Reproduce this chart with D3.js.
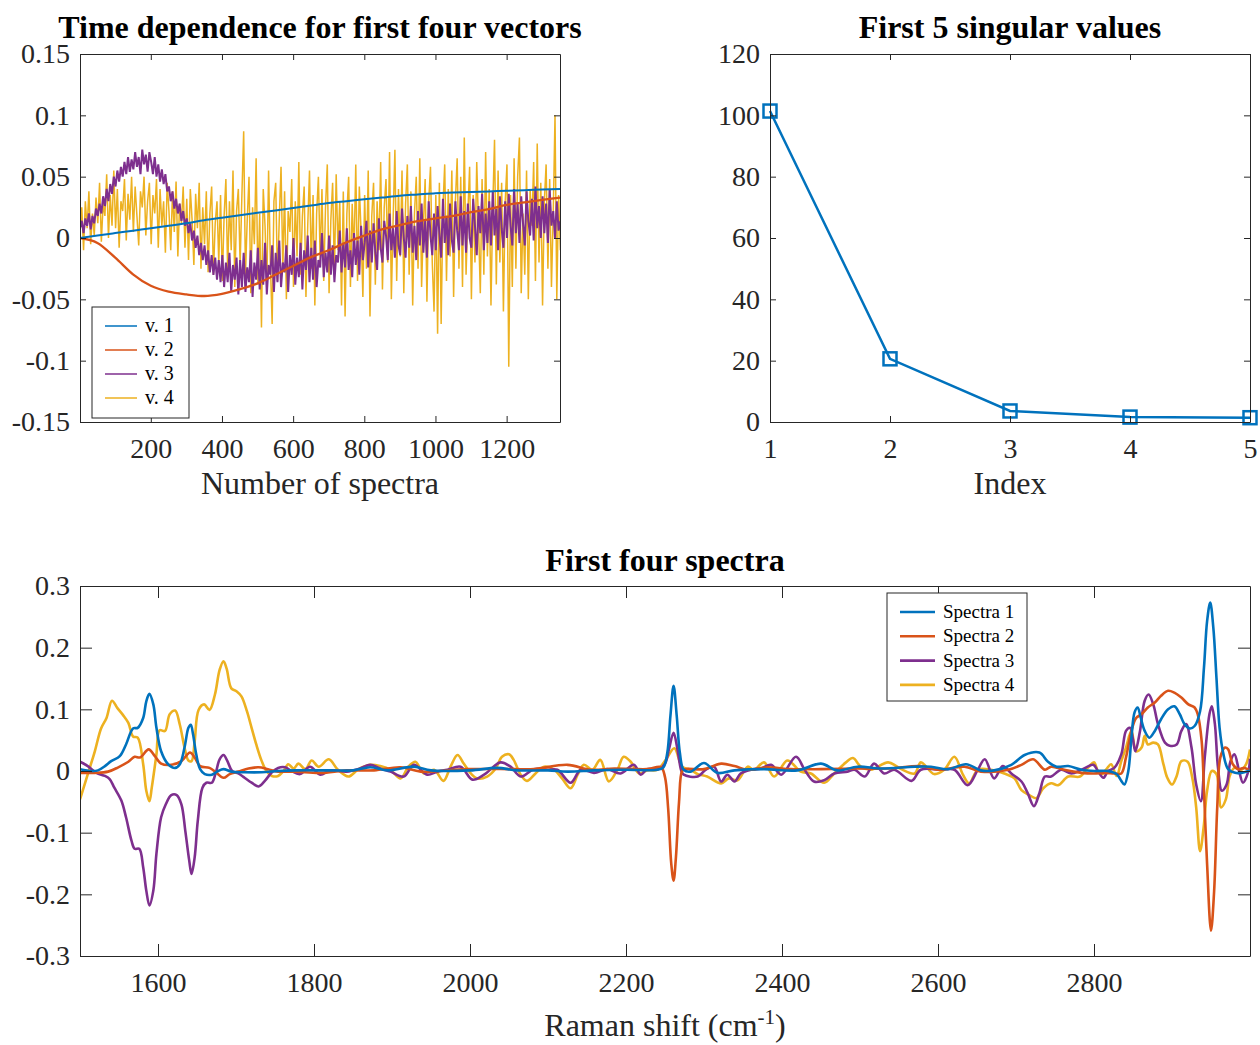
<!DOCTYPE html>
<html>
<head>
<meta charset="utf-8">
<script src="https://cdn.jsdelivr.net/npm/d3@7"></script>
<style>
  body { margin: 0; background: #fff; }
  svg { display: block; font-family: "Liberation Serif", "Times New Roman", serif; }
</style>
</head>
<body>
<div class="canvas"></div>
<script>
// ---------- data: time dependence of the first four vectors ----------
const vecNames = ['v. 1', 'v. 2', 'v. 3', 'v. 4'];
const vecXTicks = [200, 400, 600, 800, 1000, 1200];
const vecYTicks = [-0.15, -0.1, -0.05, 0, 0.05, 0.1, 0.15];

// v.1 and v.2 are smooth, read every 50 spectra
const smoothIdx = [1, 50, 100, 150, 200, 250, 300, 350, 400, 450, 500, 550, 600, 650, 700,
  750, 800, 850, 900, 950, 1000, 1050, 1100, 1150, 1200, 1250, 1300, 1350];
const v1 = [0, .002, .004, .006, .008, .010, .012, .0145, .0165, .0185, .0205, .0225, .0245, .0265, .0285,
  .030, .0315, .033, .0345, .0355, .0365, .037, .0375, .038, .0385, .039, .0395, .040];
const v2 = [0, -.004, -.016, -.0296, -.039, -.0438, -.046, -.0473, -.0456, -.0418, -.037, -.030, -.0228, -.0156, -.010,
  -.0035, .002, .007, .0105, .0137, .016, .018, .021, .0235, .027, .029, .031, .033];

// v.3 and v.4 are noisy, read every 5 spectra
const noiseStep = 5;
const v3 = [
  .008,.014,.004,.016,.010,.020,.007,.018,.012,.024,
  .018,.028,.020,.034,.026,.040,.030,.044,.036,.050,
  .042,.055,.046,.058,.050,.062,.052,.066,.054,.064,
  .056,.070,.058,.066,.052,.072,.060,.068,.054,.070,
  .062,.052,.066,.050,.060,.046,.056,.044,.052,.038,
  .042,.030,.038,.024,.032,.020,.028,.014,.022,.010,
  .016,.004,.012,-.002,.006,-.008,.002,-.014,-.004,-.018,
  -.006,-.022,-.010,-.028,-.014,-.030,-.016,-.034,-.018,-.036,
  -.014,-.040,-.020,-.036,-.012,-.044,-.022,-.034,-.016,-.046,
  -.018,-.040,-.012,-.044,-.024,-.036,-.010,-.048,-.020,-.034,
  -.008,-.042,-.018,-.038,-.004,-.046,-.022,-.030,-.006,-.044,
  -.012,-.036,-.002,-.040,-.020,-.028,-.006,-.044,-.014,-.030,
  .000,-.038,-.016,-.032,-.004,-.042,-.010,-.026,.002,-.036,
  -.008,-.034,-.002,-.040,-.018,-.024,.004,-.032,-.012,-.028,
  .002,-.030,-.006,-.036,-.014,-.020,.006,-.028,-.004,-.024,
  .008,-.026,-.010,-.032,.004,-.022,-.002,-.030,.010,-.018,
  -.004,.014,-.024,.006,-.020,.012,-.012,-.026,.016,-.008,
  -.020,.014,.002,-.018,.020,-.010,.008,-.016,.022,-.006,
  -.014,.024,.000,-.016,.018,-.008,.026,-.012,.010,-.018,
  .022,-.006,.028,-.012,.014,-.016,.030,.002,-.014,.020,
  -.010,.026,.004,-.016,.032,-.004,.018,-.014,.028,-.002,
  -.012,.030,.006,-.010,.034,-.006,.022,-.012,.028,.000,
  -.008,.032,.010,-.014,.026,.004,.036,-.010,.020,-.004,
  .030,-.006,.038,.002,.024,-.010,.034,.008,-.008,.030,
  .000,.036,.010,-.006,.040,.004,.028,-.004,.034,.012,
  -.006,.038,.014,.002,.032,-.002,.042,.008,.026,.000,
  .034,.004,.028,-.004,.040,.010,.022,.000,.030,.006,
  .014];
const v4 = [
  .005,.025,-.010,.030,.008,.038,-.005,.020,.002,.033,
  .012,.045,-.003,.028,.018,.052,.000,.035,.010,.055,
  .008,.040,-.008,.030,.022,.048,-.002,.036,.015,.050,
  .005,.042,.018,-.006,.038,.025,.050,.002,.030,.045,
  -.005,.035,.020,.048,-.008,.040,.010,.030,-.012,.045,
  .022,-.010,.038,.005,.046,-.015,.028,.012,.042,-.008,
  .032,-.018,.040,.015,-.022,.036,.008,.045,-.025,.025,
  -.005,.038,-.028,.020,.042,-.030,.012,.030,-.020,.035,
  -.035,.018,.048,-.028,.030,-.010,.055,-.040,.022,.040,
  -.022,.035,.087,-.030,.015,.050,-.045,.025,-.005,.065,
  -.038,.020,-.073,.040,.010,-.042,.055,-.020,-.070,.030,
  .045,-.035,.015,.058,-.025,.038,-.050,.022,.005,.048,
  -.040,.030,-.015,.062,-.030,.018,.042,-.048,.010,.055,
  -.025,.035,-.055,.020,.050,-.018,.040,-.035,.025,.060,
  -.045,.015,.045,-.030,.052,-.010,.030,-.055,.038,-.064,
  .020,.050,-.040,.028,-.015,.060,-.035,.042,.005,-.048,
  .035,-.025,.055,-.064,.018,.045,-.038,.030,-.010,.062,
  -.042,.025,.048,-.020,.070,-.050,.015,.072,-.035,.040,
  -.015,.055,-.045,.028,.060,-.030,.038,-.055,.020,.050,
  -.025,.065,-.040,.010,.048,-.052,.030,.058,-.020,-.060,
  .035,-.078,.045,-.070,.025,.060,-.035,.040,-.015,.055,
  -.048,.030,.065,-.025,.050,-.040,.082,-.030,.020,.058,
  -.050,.035,-.020,.062,.010,-.045,.048,-.030,.070,-.015,
  .040,-.055,.025,.080,-.038,.055,-.020,.045,-.060,.030,
  .060,-.105,.035,-.040,.065,-.025,.050,.082,-.045,.020,
  -.030,.055,-.050,.040,.010,.062,-.035,.077,-.020,.045,
  -.055,.030,.060,-.025,.048,-.040,.020,.100,-.050,.035,
  -.010];

// ---------- data: singular values ----------
const svIndex = [1, 2, 3, 4, 5];
const svValues = [101.4, 20.6, 3.6, 1.6, 1.4];
const svYTicks = [0, 20, 40, 60, 80, 100, 120];

// ---------- data: first four spectra  [Raman shift, value] ----------
const specNames = ['Spectra 1', 'Spectra 2', 'Spectra 3', 'Spectra 4'];
const specXTicks = [1600, 1800, 2000, 2200, 2400, 2600, 2800];
const specYTicks = [-0.3, -0.2, -0.1, 0, 0.1, 0.2, 0.3];

const spec1 = [[1500,.003],[1515,0],[1523,.001],[1532,.008],[1540,.016],[1551,.024],[1559,.043],[1568,.069],[1574,.070],
  [1581,.086],[1585,.113],[1589,.125],[1594,.108],[1598,.070],[1604,.032],[1613,.011],[1622,.005],[1628,.011],[1634,.038],
  [1639,.070],[1642,.075],[1645,.059],[1649,.027],[1654,.003],[1660,-.005],[1669,-.006],[1677,0],[1684,.003],[1694,-.001],
  [1711,-.002],[1733,-.002],[1754,0],[1776,.001],[1820,.001],[1850,.001],[1872,.006],[1895,.001],[1928,.007],[1950,.001],
  [2000,.001],[2035,.005],[2060,.001],[2100,.001],[2125,-.001],[2160,.001],[2200,.002],[2240,.002],[2248,.006],[2253,.030],
  [2257,.090],[2261,.138],[2265,.090],[2269,.030],[2274,.002],[2283,-.001],[2300,.013],[2317,-.003],[2339,.001],[2377,.003],
  [2420,.001],[2450,.012],[2471,.001],[2497,.007],[2527,.004],[2570,.007],[2591,.007],[2613,.003],[2636,.011],[2655,.001],
  [2672,.001],[2694,.010],[2711,.026],[2730,.030],[2741,.015],[2752,.007],[2767,.008],[2784,.002],[2801,0],[2818,0],
  [2829,-.005],[2835,-.016],[2839,-.022],[2844,0],[2848,.054],[2852,.095],[2856,.103],[2860,.086],[2865,.065],[2871,.054],
  [2878,.065],[2886,.084],[2895,.100],[2903,.105],[2910,.092],[2916,.076],[2923,.069],[2929,.073],[2936,.097],[2941,.168],
  [2945,.243],[2949,.273],[2953,.232],[2957,.151],[2961,.070],[2966,.027],[2972,.003],[2981,-.003],[2989,-.003],[2998,0],[3000,.001]];

const spec2 = [[1500,-.003],[1519,-.003],[1536,-.001],[1549,.006],[1562,.015],[1570,.023],[1577,.022],[1588,.035],[1596,.024],
  [1604,.012],[1617,.010],[1630,.016],[1641,.030],[1647,.022],[1654,.008],[1666,.005],[1675,-.003],[1684,-.011],[1692,-.005],
  [1703,-.001],[1716,.004],[1729,.006],[1741,.003],[1754,-.001],[1776,-.001],[1808,-.003],[1842,.001],[1877,.001],[1911,.006],
  [1937,-.001],[1996,.003],[2056,.003],[2082,.003],[2125,.010],[2155,.002],[2185,.004],[2227,.003],[2245,.006],[2250,-.010],
  [2254,-.060],[2258,-.150],[2261,-.178],[2264,-.140],[2268,-.050],[2272,0],[2276,.003],[2300,.003],[2322,.012],[2339,.008],
  [2356,.002],[2381,.006],[2411,.003],[2450,.003],[2493,.004],[2536,.004],[2578,.008],[2600,.002],[2634,.007],[2655,-.001],
  [2690,.002],[2707,.010],[2722,.019],[2737,.002],[2745,.007],[2762,.002],[2784,-.003],[2800,-.004],[2814,-.003],[2826,-.004],
  [2835,-.004],[2841,.022],[2848,.065],[2854,.086],[2861,.092],[2869,.103],[2878,.111],[2886,.122],[2895,.130],[2903,.127],
  [2912,.119],[2921,.108],[2929,.103],[2933,.092],[2938,.049],[2941,-.032],[2945,-.151],[2950,-.259],[2954,-.195],[2958,-.059],
  [2962,.022],[2968,.038],[2972,.035],[2978,.011],[2985,.003],[2993,.005],[3000,0]];

const spec3 = [[1500,.015],[1510,.008],[1521,-.003],[1532,-.008],[1538,-.013],[1544,-.027],[1553,-.048],[1559,-.075],[1566,-.113],
  [1570,-.126],[1576,-.126],[1581,-.156],[1585,-.194],[1589,-.218],[1594,-.194],[1598,-.134],[1604,-.075],[1610,-.054],[1617,-.039],
  [1624,-.039],[1630,-.054],[1635,-.097],[1640,-.145],[1643,-.167],[1647,-.140],[1651,-.081],[1657,-.027],[1662,-.019],[1669,-.019],
  [1674,-.003],[1679,.019],[1684,.026],[1689,.016],[1695,0],[1703,-.004],[1711,-.011],[1720,-.019],[1729,-.025],[1737,-.016],
  [1746,-.002],[1754,.005],[1763,.006],[1771,0],[1782,-.005],[1795,.007],[1808,-.006],[1821,.001],[1842,-.001],[1859,.004],
  [1872,.010],[1885,.004],[1898,-.001],[1915,-.009],[1928,.010],[1945,-.006],[1958,-.001],[1971,.002],[1988,.007],[2003,-.014],
  [2018,-.006],[2039,.014],[2052,.007],[2065,-.009],[2082,.003],[2099,.002],[2112,.002],[2129,-.019],[2142,.002],[2159,-.003],
  [2176,.003],[2193,-.004],[2210,.010],[2219,-.006],[2227,.003],[2242,.003],[2250,.012],[2255,.035],[2261,.062],[2266,.035],
  [2271,0],[2274,-.006],[2292,-.009],[2302,.002],[2313,.007],[2322,-.017],[2330,-.006],[2339,-.017],[2347,-.004],[2360,.002],
  [2373,.004],[2386,.010],[2399,-.006],[2418,.023],[2429,.002],[2441,-.017],[2454,-.015],[2467,-.004],[2484,-.001],[2493,.002],
  [2506,-.009],[2518,.012],[2531,-.004],[2544,.002],[2566,-.016],[2578,.002],[2604,.002],[2621,.002],[2638,-.023],[2651,.002],
  [2660,.019],[2672,-.012],[2683,.008],[2694,-.004],[2707,-.017],[2715,-.036],[2723,-.057],[2730,-.036],[2737,-.009],[2745,-.009],
  [2758,.002],[2771,-.004],[2784,.002],[2799,.010],[2805,0],[2812,-.011],[2818,0],[2826,.005],[2835,.027],[2841,.065],
  [2846,.070],[2850,.051],[2853,.032],[2859,.065],[2865,.114],[2870,.124],[2876,.108],[2882,.076],[2891,.046],[2897,.041],
  [2906,.043],[2912,.065],[2918,.076],[2925,.038],[2931,-.022],[2937,-.049],[2942,.022],[2948,.092],[2951,.105],[2955,.076],
  [2959,.005],[2964,-.032],[2970,-.022],[2975,.016],[2980,.027],[2986,0],[2991,-.019],[2998,0],[3000,.020]];

const spec4 = [[1500,-.046],[1510,-.005],[1519,.032],[1527,.069],[1534,.086],[1541,.114],[1548,.102],[1555,.091],[1562,.078],
  [1568,.056],[1574,.054],[1581,.011],[1585,-.032],[1589,-.049],[1592,-.027],[1598,.027],[1602,.066],[1609,.065],[1615,.092],
  [1622,.098],[1628,.075],[1634,.038],[1639,.017],[1643,.016],[1647,.048],[1652,.099],[1659,.108],[1666,.099],[1673,.124],
  [1679,.164],[1684,.178],[1688,.166],[1694,.134],[1701,.129],[1707,.121],[1714,.097],[1720,.070],[1726,.043],[1733,.016],
  [1739,0],[1746,-.008],[1754,-.008],[1761,0],[1767,.011],[1774,.004],[1780,.012],[1789,.003],[1797,.017],[1806,.007],
  [1819,.019],[1830,.003],[1844,-.009],[1857,.003],[1872,.010],[1885,.008],[1898,.002],[1911,-.012],[1921,.007],[1930,.015],
  [1941,-.004],[1954,.002],[1966,-.016],[1975,.007],[1984,.026],[1992,.012],[2001,-.004],[2009,-.012],[2022,-.009],[2033,.004],
  [2041,.023],[2050,.027],[2056,.018],[2065,-.006],[2073,-.016],[2084,-.004],[2095,.007],[2108,.002],[2118,-.012],[2129,-.028],
  [2138,-.006],[2146,.010],[2157,.002],[2167,.018],[2178,-.017],[2189,.002],[2197,.023],[2206,.015],[2217,-.004],[2227,.001],
  [2240,.002],[2251,.018],[2262,.037],[2272,.007],[2283,.002],[2292,-.005],[2304,-.009],[2322,-.020],[2332,-.012],[2343,-.015],
  [2356,.007],[2364,.002],[2377,.014],[2390,-.009],[2407,.017],[2424,-.001],[2437,-.004],[2454,-.019],[2467,-.004],[2482,.014],
  [2491,.021],[2501,.007],[2514,.002],[2536,.014],[2553,.003],[2570,-.004],[2578,.014],[2595,-.005],[2608,.002],[2621,.023],
  [2632,-.006],[2640,-.020],[2651,.002],[2668,.002],[2685,-.004],[2698,-.012],[2707,-.031],[2717,-.039],[2726,-.044],[2735,-.028],
  [2745,-.020],[2754,-.023],[2767,-.009],[2782,-.009],[2792,.005],[2800,.014],[2805,0],[2810,-.005],[2816,.003],[2822,.011],
  [2829,-.008],[2835,.016],[2841,.038],[2848,.065],[2854,.032],[2861,.038],[2865,.057],[2869,.043],[2876,.046],[2882,.043],
  [2889,.011],[2894,-.011],[2900,-.022],[2906,-.008],[2912,.016],[2920,.015],[2926,-.011],[2931,-.059],[2936,-.130],[2941,-.086],
  [2945,-.032],[2951,0],[2957,-.005],[2963,-.059],[2969,-.046],[2974,-.008],[2980,.005],[2989,.002],[2995,.011],[3000,.035]];

// matlab default colour order
const colors = ['#0072BD', '#D95319', '#7E2F8E', '#EDB120'];
const ink = '#262626';

// ---------- svg ----------
const svg = d3.select('.canvas')
  .append('svg')
    .attr('width', 1260)
    .attr('height', 1045);

// matlab style numbers: plain hyphen, no trailing zeros
const fmt = d => String(+d.toFixed(2)).replace('\u2212', '-');

// draws a boxed panel with inward ticks, returns the plot group
const panel = (o) => {
  const g = svg.append('g').attr('transform', `translate(${o.left}, ${o.top})`);
  const w = o.x.range()[1], h = o.y.range()[0];

  g.append('clipPath').attr('id', o.id)
    .append('rect').attr('width', w).attr('height', h);

  const plot = g.append('g');

  const axes = [
    [d3.axisBottom(o.x).tickValues(o.xTicks).tickFormat(fmt), `translate(0, ${h})`, 16],
    [d3.axisLeft(o.y).tickValues(o.yTicks).tickFormat(fmt), null, 10],
    [d3.axisTop(o.x).tickValues(o.xTicks).tickFormat(''), null, 0],
    [d3.axisRight(o.y).tickValues(o.yTicks).tickFormat(''), `translate(${w}, 0)`, 0]
  ];
  axes.forEach(([ax, tr, pad]) => {
    ax.tickSizeInner(-o.tickLen).tickSizeOuter(0).tickPadding(pad);
    const a = g.append('g').call(ax);
    if (tr) a.attr('transform', tr);
    a.select('.domain').attr('stroke', ink);
    a.selectAll('.tick line').attr('stroke', ink);
    a.selectAll('.tick text')
      .attr('fill', ink)
      .attr('font-size', 28)
      .attr('font-family', '"Liberation Serif", serif');
  });

  g.append('text')
    .attr('x', w / 2).attr('y', o.titleY)
    .attr('text-anchor', 'middle')
    .attr('font-size', 32).attr('font-weight', 'bold')
    .text(o.title);

  const xl = g.append('text')
    .attr('x', w / 2).attr('y', h + o.xlabelY)
    .attr('text-anchor', 'middle')
    .attr('font-size', 32).attr('fill', ink);
  if (o.xlabelSup) {
    xl.append('tspan').text(o.xlabel);
    xl.append('tspan').text(o.xlabelSup).attr('dy', -12).attr('font-size', 21);
    xl.append('tspan').text(')').attr('dy', 12);
  } else {
    xl.text(o.xlabel);
  }
  return {g, plot};
};

const legend = (g, x, y, w, h, names, widths, step, lineLen, fs) => {
  const lg = g.append('g').attr('transform', `translate(${x}, ${y})`);
  lg.append('rect')
    .attr('width', w).attr('height', h)
    .attr('fill', '#fff').attr('stroke', ink).attr('stroke-width', 1);
  names.forEach((name, i) => {
    const yy = 19 + i * step;
    lg.append('line')
      .attr('x1', 13).attr('x2', 13 + lineLen)
      .attr('y1', yy).attr('y2', yy)
      .attr('stroke', colors[i]).attr('stroke-width', widths[i]);
    lg.append('text')
      .attr('x', 21 + lineLen).attr('y', yy + 6)
      .attr('font-size', fs).attr('fill', '#000')
      .text(name);
  });
};

// ---------- panel 1: time dependence ----------
const xVec = d3.scaleLinear().domain([1, 1350]).range([0, 480]);
const yVec = d3.scaleLinear().domain([-0.15, 0.15]).range([368, 0]);

const p1 = panel({id: 'clip1', left: 80, top: 54, x: xVec, y: yVec,
  xTicks: vecXTicks, yTicks: vecYTicks, tickLen: 6, titleY: -16,
  title: 'Time dependence for first four vectors', xlabel: 'Number of spectra', xlabelY: 72});

const vecSeries = [
  smoothIdx.map((n, i) => [n, v1[i]]),
  smoothIdx.map((n, i) => [n, v2[i]]),
  v3.map((v, i) => [1 + i * noiseStep, v]),
  v4.map((v, i) => [1 + i * noiseStep, v])
];
const vecWidths = [2, 2.3, 2, 1.5];

// drawn last-to-first so v. 1 ends up on top
[3, 2, 1, 0].forEach(k => {
  p1.plot.append('path')
    .datum(vecSeries[k])
    .attr('clip-path', 'url(#clip1)')
    .attr('fill', 'none')
    .attr('stroke', colors[k])
    .attr('stroke-width', vecWidths[k])
    .attr('stroke-linejoin', 'miter')
    .attr('stroke-miterlimit', 2)
    .attr('d', d3.line()
      .x(d => xVec(d[0]))
      .y(d => yVec(d[1]))
      .curve(k < 2 ? d3.curveMonotoneX : d3.curveLinear));
});
legend(p1.g, 12, 253, 97, 111, vecNames, [1.5, 1.5, 1.5, 1.5], 24, 32, 20);

// ---------- panel 2: singular values ----------
const xSv = d3.scaleLinear().domain([1, 5]).range([0, 480]);
const ySv = d3.scaleLinear().domain([0, 120]).range([368, 0]);

const p2 = panel({id: 'clip2', left: 770, top: 54, x: xSv, y: ySv,
  xTicks: svIndex, yTicks: svYTicks, tickLen: 6, titleY: -16,
  title: 'First 5 singular values', xlabel: 'Index', xlabelY: 72});

p2.plot.append('path')
  .datum(svIndex.map((n, i) => [n, svValues[i]]))
  .attr('fill', 'none')
  .attr('stroke', colors[0])
  .attr('stroke-width', 2.5)
  .attr('d', d3.line().x(d => xSv(d[0])).y(d => ySv(d[1])));

p2.plot.selectAll('rect.mk')
  .data(svIndex.map((n, i) => [n, svValues[i]]))
  .enter()
  .append('rect')
    .attr('class', 'mk')
    .attr('x', d => xSv(d[0]) - 6.5)
    .attr('y', d => ySv(d[1]) - 6.5)
    .attr('width', 13).attr('height', 13)
    .attr('fill', 'none')
    .attr('stroke', colors[0])
    .attr('stroke-width', 2.5);

// ---------- panel 3: spectra ----------
const xSpec = d3.scaleLinear().domain([1500, 3000]).range([0, 1170]);
const ySpec = d3.scaleLinear().domain([-0.3, 0.3]).range([370, 0]);

const p3 = panel({id: 'clip3', left: 80, top: 586, x: xSpec, y: ySpec,
  xTicks: specXTicks, yTicks: specYTicks, tickLen: 12, titleY: -15,
  title: 'First four spectra', xlabel: 'Raman shift (cm', xlabelSup: '-1', xlabelY: 80});

const spectra = [spec1, spec2, spec3, spec4];
[3, 2, 1, 0].forEach(k => {
  p3.plot.append('path')
    .datum(spectra[k])
    .attr('clip-path', 'url(#clip3)')
    .attr('fill', 'none')
    .attr('stroke', colors[k])
    .attr('stroke-width', 2.6)
    .attr('stroke-linejoin', 'round')
    .attr('d', d3.line()
      .x(d => xSpec(d[0]))
      .y(d => ySpec(d[1]))
      .curve(d3.curveCatmullRom.alpha(0.5)));
});
legend(p3.g, 807, 7, 140, 108, specNames, [2.6, 2.6, 2.6, 2.6], 24.3, 35, 19);
</script>
</body>
</html>
